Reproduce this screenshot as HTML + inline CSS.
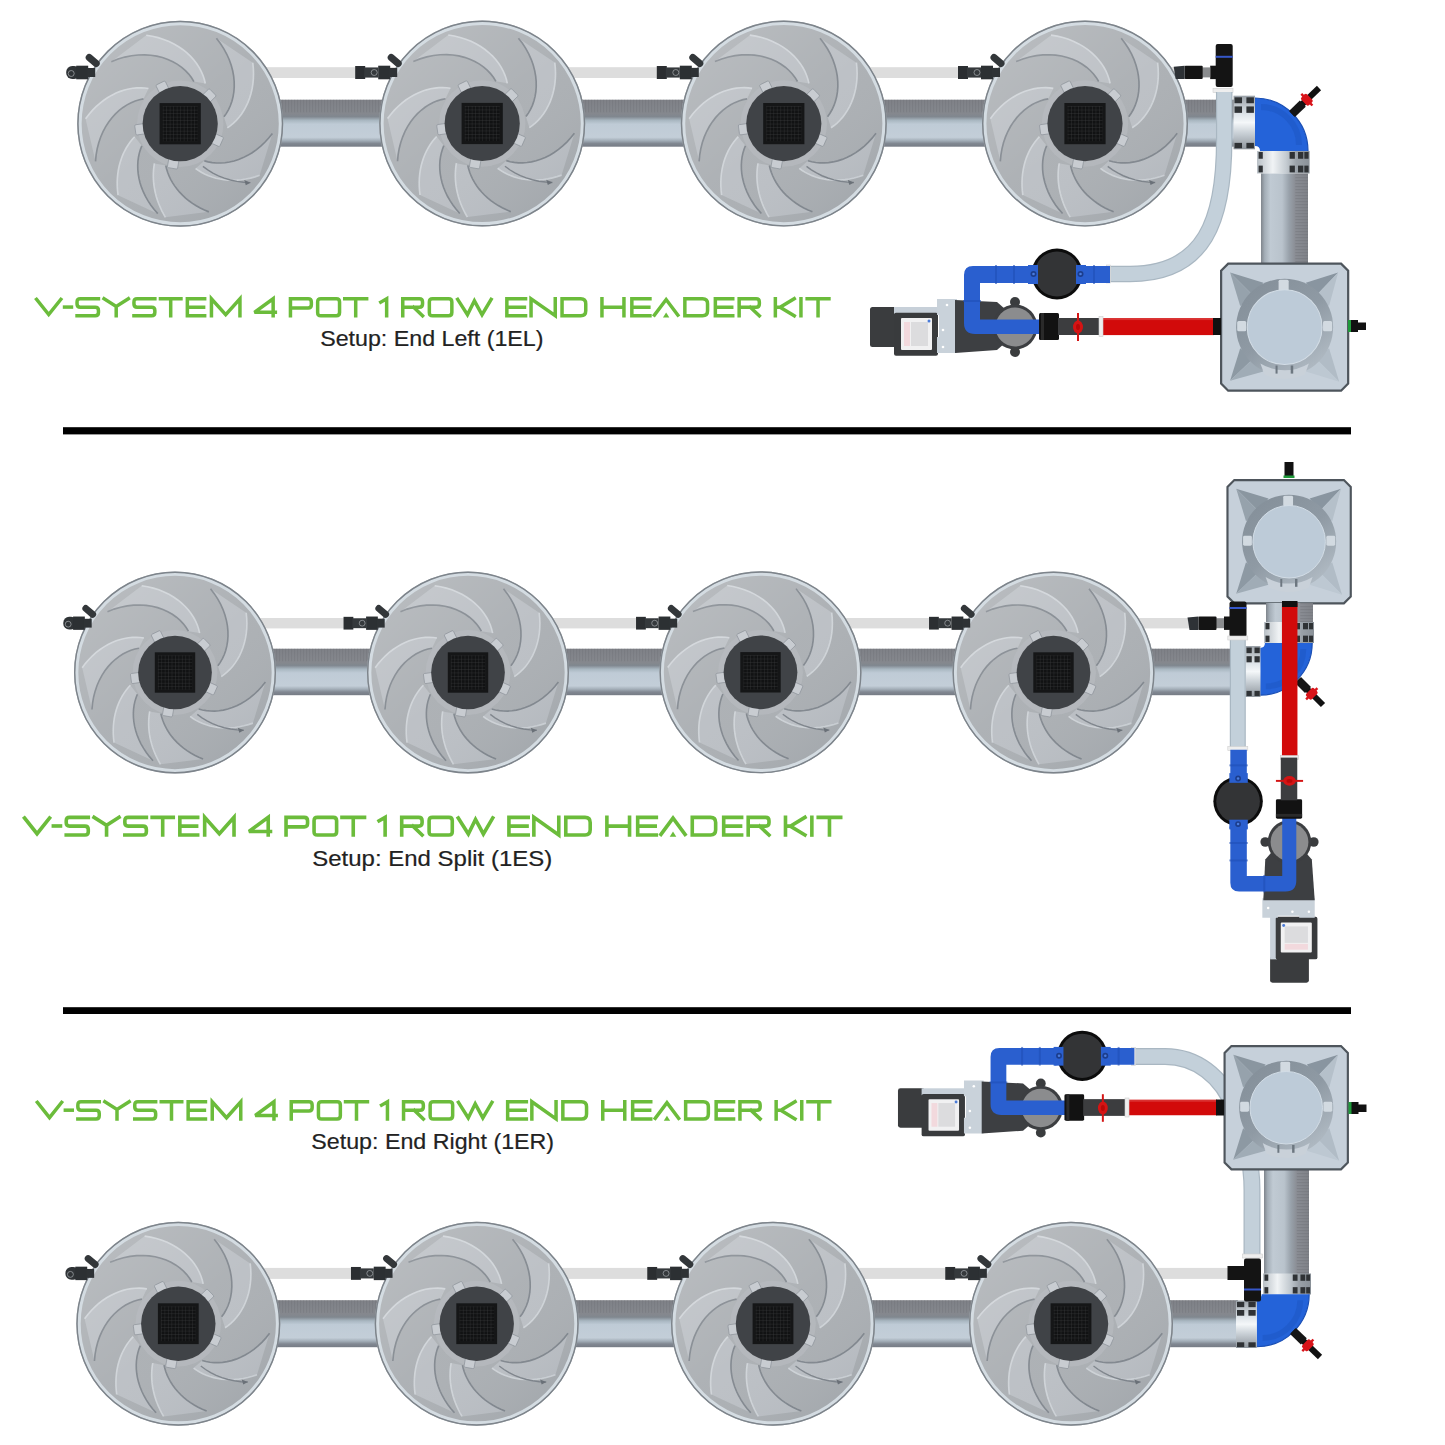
<!DOCTYPE html>
<html><head><meta charset="utf-8"><title>V-System</title>
<style>html,body{margin:0;padding:0;background:#fff;}svg{display:block;}</style>
</head><body>
<svg width="1445" height="1445" viewBox="0 0 1445 1445">
<rect width="1445" height="1445" fill="#fff"/>

<defs>
 <linearGradient id="potShade" x1="0.15" y1="0.1" x2="0.85" y2="0.9">
  <stop offset="0" stop-color="#ffffff" stop-opacity="0.15"/>
  <stop offset="0.5" stop-color="#ffffff" stop-opacity="0.02"/>
  <stop offset="1" stop-color="#203040" stop-opacity="0.06"/>
 </linearGradient>
 <linearGradient id="tankRing" x1="0.2" y1="0.1" x2="0.8" y2="0.9">
  <stop offset="0" stop-color="#86919b"/>
  <stop offset="0.5" stop-color="#8f9aa4"/>
  <stop offset="1" stop-color="#aeb8c1"/>
 </linearGradient>
 <pattern id="grid" width="3.4" height="3.4" patternUnits="userSpaceOnUse">
  <rect width="3.4" height="3.4" fill="#111213"/>
  <path d="M0,0 L3.4,0 M0,0 L0,3.4" stroke="#3d3e40" stroke-width="0.6"/>
 </pattern>
 <linearGradient id="pipeH" x1="0" y1="0" x2="0" y2="1">
  <stop offset="0" stop-color="#7f8187"/>
  <stop offset="0.30" stop-color="#85888e"/>
  <stop offset="0.36" stop-color="#80878f"/>
  <stop offset="0.44" stop-color="#a9b7c1"/>
  <stop offset="0.52" stop-color="#bfcbd6"/>
  <stop offset="0.80" stop-color="#c3ced8"/>
  <stop offset="0.87" stop-color="#a3aeb8"/>
  <stop offset="0.93" stop-color="#818892"/>
  <stop offset="1" stop-color="#767c85"/>
 </linearGradient>
 <linearGradient id="pipeV" x1="0" y1="0" x2="1" y2="0">
  <stop offset="0" stop-color="#7f858c"/>
  <stop offset="0.08" stop-color="#a4aeb7"/>
  <stop offset="0.2" stop-color="#c0cad3"/>
  <stop offset="0.45" stop-color="#b9c3cc"/>
  <stop offset="0.6" stop-color="#98a1aa"/>
  <stop offset="0.73" stop-color="#8a8d94"/>
  <stop offset="1" stop-color="#7f8288"/>
 </linearGradient>
 <pattern id="ribs" width="3" height="10" patternUnits="userSpaceOnUse">
  <rect width="1.2" height="10" fill="#6a6c72"/>
 </pattern>
 <pattern id="ribsH" width="10" height="3" patternUnits="userSpaceOnUse">
  <rect width="10" height="1.2" fill="#6a6c72"/>
 </pattern>
 <linearGradient id="metalV" x1="0" y1="0" x2="0" y2="1">
  <stop offset="0" stop-color="#9aa1a8"/>
  <stop offset="0.35" stop-color="#dfe5ea"/>
  <stop offset="0.5" stop-color="#f4f7f9"/>
  <stop offset="0.7" stop-color="#c9d0d6"/>
  <stop offset="1" stop-color="#8e959c"/>
 </linearGradient>
 <linearGradient id="metalH" x1="0" y1="0" x2="1" y2="0">
  <stop offset="0" stop-color="#b9c0c6"/>
  <stop offset="0.3" stop-color="#f0f3f5"/>
  <stop offset="0.55" stop-color="#c5ccd2"/>
  <stop offset="0.75" stop-color="#9aa1a8"/>
  <stop offset="1" stop-color="#8a9198"/>
 </linearGradient>
<g id="pot">
<circle r="100" fill="#acb0b4"/>
<path d="M13.29,-40.9 L11.02,-44.6 L8.28,-48.17 L5.08,-51.56 L1.43,-54.73 L-2.64,-57.63 L-7.13,-60.2 L-11.99,-62.42 L-17.21,-64.23 L-22.75,-65.6 L-28.57,-66.5 L-34.63,-66.88 L-40.89,-66.72 L-47.29,-65.99 L-53.79,-64.68 L-60.34,-62.76 L-66.88,-60.22 L-32.97,-85.89 L-27.08,-84.91 L-21.41,-83.55 L-16,-81.83 L-10.86,-79.76 L-6.01,-77.39 L-1.47,-74.74 L2.74,-71.82 L6.61,-68.68 L10.13,-65.34 L13.29,-61.84 L16.07,-58.2 L18.48,-54.45 L20.52,-50.63 L22.18,-46.76 L23.46,-42.88 L24.38,-39.01 Z" fill="#bcc0c5"/>
<path d="M13.29,-40.9 L11.02,-44.6 L8.28,-48.17 L5.08,-51.56 L1.43,-54.73 L-2.64,-57.63 L-7.13,-60.2 L-11.99,-62.42 L-17.21,-64.23 L-22.75,-65.6 L-28.57,-66.5 L-34.63,-66.88 L-40.89,-66.72 L-47.29,-65.99 L-53.79,-64.68 L-60.34,-62.76 L-66.88,-60.22" fill="none" stroke="#838990" stroke-width="1.6"/>
<path d="M24.38,-39.01 L23.46,-42.88 L22.18,-46.76 L20.52,-50.63 L18.48,-54.45 L16.07,-58.2 L13.29,-61.84 L10.13,-65.34 L6.61,-68.68 L2.74,-71.82 L-1.47,-74.74 L-6.01,-77.39 L-10.86,-79.76 L-16,-81.83 L-21.41,-83.55 L-27.08,-84.91 L-32.97,-85.89" fill="none" stroke="#d3d7dc" stroke-width="1.6" opacity="0.9"/>
<path d="M42.47,-6.73 L44.83,-10.04 L46.92,-13.68 L48.73,-17.61 L50.21,-21.83 L51.34,-26.3 L52.1,-31 L52.46,-35.89 L52.4,-40.94 L51.91,-46.12 L50.95,-51.4 L49.53,-56.73 L47.64,-62.08 L45.25,-67.41 L42.38,-72.67 L39.02,-77.83 L35.17,-82.85 L70.48,-59.14 L71,-53.87 L71.19,-48.7 L71.04,-43.64 L70.58,-38.72 L69.81,-33.95 L68.74,-29.36 L67.41,-24.95 L65.81,-20.75 L63.96,-16.77 L61.9,-13.02 L59.62,-9.51 L57.16,-6.26 L54.53,-3.28 L51.75,-0.56 L48.84,1.87 L45.82,4.01 Z" fill="#bcc0c5"/>
<path d="M42.47,-6.73 L44.83,-10.04 L46.92,-13.68 L48.73,-17.61 L50.21,-21.83 L51.34,-26.3 L52.1,-31 L52.46,-35.89 L52.4,-40.94 L51.91,-46.12 L50.95,-51.4 L49.53,-56.73 L47.64,-62.08 L45.25,-67.41 L42.38,-72.67 L39.02,-77.83 L35.17,-82.85" fill="none" stroke="#838990" stroke-width="1.6"/>
<path d="M45.82,4.01 L48.84,1.87 L51.75,-0.56 L54.53,-3.28 L57.16,-6.26 L59.62,-9.51 L61.9,-13.02 L63.96,-16.77 L65.81,-20.75 L67.41,-24.95 L68.74,-29.36 L69.81,-33.95 L70.58,-38.72 L71.04,-43.64 L71.19,-48.7 L71,-53.87 L70.48,-59.14" fill="none" stroke="#d3d7dc" stroke-width="1.6" opacity="0.9"/>
<path d="M23.42,36.06 L27.12,37.08 L31.01,37.78 L35.05,38.16 L39.22,38.2 L43.5,37.89 L47.85,37.22 L52.27,36.17 L56.7,34.75 L61.13,32.93 L65.53,30.73 L69.86,28.14 L74.1,25.15 L78.21,21.78 L82.17,18.03 L85.95,13.9 L89.51,9.41 L77.16,50.11 L72.67,51.6 L68.2,52.8 L63.75,53.73 L59.35,54.39 L55.01,54.77 L50.74,54.89 L46.56,54.76 L42.48,54.37 L38.52,53.75 L34.68,52.9 L30.98,51.82 L27.44,50.53 L24.05,49.04 L20.84,47.37 L17.81,45.51 L14.98,43.49 Z" fill="#bcc0c5"/>
<path d="M23.42,36.06 L27.12,37.08 L31.01,37.78 L35.05,38.16 L39.22,38.2 L43.5,37.89 L47.85,37.22 L52.27,36.17 L56.7,34.75 L61.13,32.93 L65.53,30.73 L69.86,28.14 L74.1,25.15 L78.21,21.78 L82.17,18.03 L85.95,13.9 L89.51,9.41" fill="none" stroke="#838990" stroke-width="1.6"/>
<path d="M14.98,43.49 L17.81,45.51 L20.84,47.37 L24.05,49.04 L27.44,50.53 L30.98,51.82 L34.68,52.9 L38.52,53.75 L42.48,54.37 L46.56,54.76 L50.74,54.89 L55.01,54.77 L59.35,54.39 L63.75,53.73 L68.2,52.8 L72.67,51.6 L77.16,50.11" fill="none" stroke="#d3d7dc" stroke-width="1.6" opacity="0.9"/>
<path d="M-14,40.66 L-13.19,44 L-12.13,47.34 L-10.83,50.67 L-9.27,53.96 L-7.47,57.2 L-5.42,60.38 L-3.12,63.49 L-0.58,66.5 L2.2,69.4 L5.21,72.19 L8.44,74.84 L11.9,77.34 L15.58,79.68 L19.46,81.84 L23.54,83.82 L27.81,85.6 L-14.39,90.87 L-16.24,87.63 L-17.93,84.37 L-19.46,81.07 L-20.83,77.76 L-22.05,74.43 L-23.1,71.09 L-23.99,67.75 L-24.73,64.42 L-25.3,61.09 L-25.73,57.78 L-25.99,54.49 L-26.1,51.23 L-26.06,48.01 L-25.87,44.82 L-25.54,41.67 L-25.05,38.58 Z" fill="#bcc0c5"/>
<path d="M-14,40.66 L-13.19,44 L-12.13,47.34 L-10.83,50.67 L-9.27,53.96 L-7.47,57.2 L-5.42,60.38 L-3.12,63.49 L-0.58,66.5 L2.2,69.4 L5.21,72.19 L8.44,74.84 L11.9,77.34 L15.58,79.68 L19.46,81.84 L23.54,83.82 L27.81,85.6" fill="none" stroke="#838990" stroke-width="1.6"/>
<path d="M-25.05,38.58 L-25.54,41.67 L-25.87,44.82 L-26.06,48.01 L-26.1,51.23 L-25.99,54.49 L-25.73,57.78 L-25.3,61.09 L-24.73,64.42 L-23.99,67.75 L-23.1,71.09 L-22.05,74.43 L-20.83,77.76 L-19.46,81.07 L-17.93,84.37 L-16.24,87.63 L-14.39,90.87" fill="none" stroke="#d3d7dc" stroke-width="1.6" opacity="0.9"/>
<path d="M-37.24,21.5 L-38.58,24.94 L-39.67,28.56 L-40.48,32.34 L-41.01,36.28 L-41.23,40.34 L-41.15,44.52 L-40.75,48.78 L-40.02,53.11 L-38.95,57.48 L-37.55,61.87 L-35.79,66.26 L-33.69,70.63 L-31.23,74.94 L-28.43,79.18 L-25.27,83.31 L-21.77,87.33 L-60.36,69.43 L-60.85,65.12 L-61.12,60.85 L-61.16,56.66 L-60.98,52.55 L-60.59,48.52 L-59.99,44.59 L-59.19,40.78 L-58.19,37.07 L-57.01,33.5 L-55.65,30.06 L-54.12,26.76 L-52.43,23.62 L-50.58,20.63 L-48.59,17.81 L-46.47,15.15 L-44.22,12.68 Z" fill="#bcc0c5"/>
<path d="M-37.24,21.5 L-38.58,24.94 L-39.67,28.56 L-40.48,32.34 L-41.01,36.28 L-41.23,40.34 L-41.15,44.52 L-40.75,48.78 L-40.02,53.11 L-38.95,57.48 L-37.55,61.87 L-35.79,66.26 L-33.69,70.63 L-31.23,74.94 L-28.43,79.18 L-25.27,83.31 L-21.77,87.33" fill="none" stroke="#838990" stroke-width="1.6"/>
<path d="M-44.22,12.68 L-46.47,15.15 L-48.59,17.81 L-50.58,20.63 L-52.43,23.62 L-54.12,26.76 L-55.65,30.06 L-57.01,33.5 L-58.19,37.07 L-59.19,40.78 L-59.99,44.59 L-60.59,48.52 L-60.98,52.55 L-61.16,56.66 L-61.12,60.85 L-60.85,65.12 L-60.36,69.43" fill="none" stroke="#d3d7dc" stroke-width="1.6" opacity="0.9"/>
<path d="M-35.65,-24.05 L-39.63,-23.23 L-43.64,-22 L-47.65,-20.35 L-51.61,-18.28 L-55.49,-15.78 L-59.24,-12.86 L-62.84,-9.53 L-66.25,-5.8 L-69.42,-1.67 L-72.32,2.84 L-74.92,7.71 L-77.18,12.91 L-79.07,18.44 L-80.56,24.24 L-81.62,30.31 L-82.22,36.61 L-91.87,-4.81 L-88.67,-9.03 L-85.27,-12.93 L-81.72,-16.53 L-78.02,-19.82 L-74.21,-22.78 L-70.3,-25.41 L-66.31,-27.72 L-62.28,-29.71 L-58.21,-31.36 L-54.14,-32.69 L-50.09,-33.71 L-46.07,-34.4 L-42.11,-34.79 L-38.23,-34.88 L-34.45,-34.67 L-30.78,-34.18 Z" fill="#bcc0c5"/>
<path d="M-35.65,-24.05 L-39.63,-23.23 L-43.64,-22 L-47.65,-20.35 L-51.61,-18.28 L-55.49,-15.78 L-59.24,-12.86 L-62.84,-9.53 L-66.25,-5.8 L-69.42,-1.67 L-72.32,2.84 L-74.92,7.71 L-77.18,12.91 L-79.07,18.44 L-80.56,24.24 L-81.62,30.31 L-82.22,36.61" fill="none" stroke="#838990" stroke-width="1.6"/>
<path d="M-30.78,-34.18 L-34.45,-34.67 L-38.23,-34.88 L-42.11,-34.79 L-46.07,-34.4 L-50.09,-33.71 L-54.14,-32.69 L-58.21,-31.36 L-62.28,-29.71 L-66.31,-27.72 L-70.3,-25.41 L-74.21,-22.78 L-78.02,-19.82 L-81.72,-16.53 L-85.27,-12.93 L-88.67,-9.03 L-91.87,-4.81" fill="none" stroke="#d3d7dc" stroke-width="1.6" opacity="0.9"/>
<path d="M22.07,41.5 L26.72,44.9 L31.74,47.95 L37.1,50.6 L42.79,52.85 L48.78,54.65 L55.02,55.99 L61.5,56.85 L68.18,57.21" fill="none" stroke="#80868d" stroke-width="1.4"/>
<path d="M68.18,57.21 l-6,-2.5 l1.5,5 z" fill="#6c7279"/>
<circle r="100" fill="url(#potShade)"/>
<circle r="97.3" fill="none" stroke="#d4dce2" stroke-width="3.2"/>
<circle r="99.3" fill="none" stroke="#7d848b" stroke-width="1.4"/>
<circle r="42" fill="#b9bdc2" opacity="0.6"/>
<rect x="33" y="-5" width="11" height="10" rx="1.2" fill="#c8ccd1" stroke="#8f959c" stroke-width="0.7" transform="rotate(-116)"/>
<rect x="33" y="-5" width="11" height="10" rx="1.2" fill="#c8ccd1" stroke="#8f959c" stroke-width="0.7" transform="rotate(-44)"/>
<rect x="33" y="-5" width="11" height="10" rx="1.2" fill="#c8ccd1" stroke="#8f959c" stroke-width="0.7" transform="rotate(24)"/>
<rect x="33" y="-5" width="11" height="10" rx="1.2" fill="#c8ccd1" stroke="#8f959c" stroke-width="0.7" transform="rotate(100)"/>
<rect x="33" y="-5" width="11" height="10" rx="1.2" fill="#c8ccd1" stroke="#8f959c" stroke-width="0.7" transform="rotate(172)"/>
<circle r="36.5" fill="#404347"/>
<rect x="-20" y="-20" width="40" height="40" fill="#151617"/>
<rect x="-17" y="-17" width="34" height="34" fill="url(#grid)"/>
</g><g id="tank">
<path d="M8.1,1.1 L119.9,1.1 L126.9,8.1 L126.9,119.9 L119.9,126.9 L8.1,126.9 L1.1,119.9 L1.1,8.1 Z" fill="#c6d0da" stroke="#4e555c" stroke-width="2.2"/>
<path d="M10,10 L43,20 L33,33 Z" fill="#8a96a0"/>
<path d="M10,10 L20,43 L33,33 Z" fill="#96a2ac"/>
<path d="M117,10 L85,20 L95,33 Z" fill="#8995a0"/>
<path d="M117,10 L108,43 L95,33 Z" fill="#b5c0ca"/>
<path d="M118,118 L108,85 L95,95 Z" fill="#b1bcc6"/>
<path d="M118,118 L85,108 L95,95 Z" fill="#bdc8d2"/>
<path d="M10,117 L20,85 L33,95 Z" fill="#8d99a3"/>
<path d="M10,117 L43,108 L33,95 Z" fill="#a0acb6"/>
<circle cx="64" cy="64" r="48" fill="url(#tankRing)"/>
<path d="M40,100 A46,46 0 0 0 88,100 L84,111 A50,50 0 0 1 44,111 Z" fill="#c9d1d9"/>
<rect x="55" y="102" width="2" height="8" fill="#6d7780"/><rect x="70" y="102" width="2.5" height="8" fill="#6d7780"/>
<rect x="58" y="17" width="10" height="11" rx="1.5" fill="#d2dae1"/>
<rect x="17" y="58" width="9" height="10" rx="1.5" fill="#d2dae1"/>
<rect x="102" y="58" width="9" height="10" rx="1.5" fill="#d2dae1"/>
<circle cx="64" cy="64" r="37" fill="#bdcbd8" stroke="#d3dde6" stroke-width="1"/>
</g><g id="pump">
<rect x="-145" y="-20" width="27" height="40" rx="2.5" fill="#3a3c3e"/>
<rect x="-121" y="-20" width="44" height="7" fill="#c7d0d9"/>
<rect x="-121" y="-14.2" width="44" height="43" rx="2" fill="#393b3d"/>
<rect x="-114" y="-9" width="31" height="32" rx="1" fill="#f1f1f2"/>
<rect x="-111" y="-5" width="6" height="24" fill="#f2d9dd"/>
<rect x="-104" y="-5" width="17" height="24" fill="#dcdcde"/>
<circle cx="-86" cy="-6" r="1.5" fill="#4a7bd8"/>
<path d="M-78,-28 L-58,-28 L-58,26 L-78,26 L-78,10 L-76,10 L-76,-12 L-78,-12 Z" fill="#c9d2da"/>
<circle cx="-68" cy="-22" r="1.3" fill="#fff"/><circle cx="-72" cy="3" r="1.3" fill="#fff"/><circle cx="-72" cy="20" r="1.3" fill="#fff"/>
<path d="M-60,-27 L-18,-25 L-10,-18 L-10,16 L-18,23 L-60,26 Z" fill="#3d3f42"/>
<circle cx="0" cy="-25" r="5" fill="#3a3c3e"/><circle cx="0" cy="25" r="5" fill="#3a3c3e"/>
<circle cx="0" cy="0" r="22.5" fill="#3c3e41"/>
<circle cx="0" cy="0" r="19.5" fill="#8b8c8e"/>
<path d="M-51,-52 Q-51,-61 -42,-61 L95,-61 L95,-44 L-35,-44 L-35,-7.5 L25,-7.5 L25,7 L-40,7 Q-51,7 -51,-4 Z" fill="#2a5fcf"/>
<rect x="-20" y="-62" width="2" height="19" fill="#1f4fb6" opacity="0.6"/>
<rect x="-2" y="-62" width="2" height="19" fill="#1f4fb6" opacity="0.6"/>
<rect x="14" y="-62" width="2" height="19" fill="#1f4fb6" opacity="0.6"/>
<rect x="78" y="-62" width="2" height="19" fill="#1f4fb6" opacity="0.6"/>
<rect x="-52" y="-27" width="18" height="2" fill="#1f4fb6" opacity="0.6"/>
<circle cx="42" cy="-53" r="25.5" fill="#0c0c0c"/>
<circle cx="42" cy="-53" r="22.5" fill="#333436"/>
<rect x="13" y="-62" width="10" height="19" fill="#2a5fcf"/>
<rect x="61" y="-62" width="10" height="19" fill="#2a5fcf"/>
<circle cx="18.5" cy="-53" r="3" fill="#1c3d8c"/><circle cx="18.5" cy="-53" r="1.3" fill="#4a7de0"/>
<circle cx="65.5" cy="-53" r="3" fill="#1c3d8c"/><circle cx="65.5" cy="-53" r="1.3" fill="#4a7de0"/>
<rect x="24" y="-14" width="20" height="27" rx="1.5" fill="#121212"/>
<rect x="26" y="-14" width="3" height="27" fill="#2a2a2a"/>
<rect x="43" y="-9" width="44" height="17" fill="#3c3d3f"/>
<rect x="62" y="-14" width="2" height="28" fill="#d41414"/>
<ellipse cx="63" cy="0" rx="5" ry="6.5" fill="#d41414"/>
<ellipse cx="63" cy="0" rx="2" ry="3" fill="#b80808"/>
</g><g id="elbow">
<path d="M0,-53 A53,53 0 0 1 53,0 L5,0 Q5,-5 0,-5 Z" fill="#2463d9"/>
<path d="M6,-44 A38,38 0 0 1 44,-6" fill="none" stroke="#1b4fb8" stroke-width="6" opacity="0.35"/>
<path d="M0,-53 A53,53 0 0 1 53,0" fill="none" stroke="#1a4fb5" stroke-width="1.2"/>
</g>
</defs>
<rect x="85" y="99.7" width="1151" height="47" fill="url(#pipeH)"/><rect x="85" y="99.7" width="1151" height="12.69" fill="url(#ribs)" opacity="0.3"/>
<rect x="250" y="67.2" width="930" height="10.8" fill="#dddddd"/>
<use href="#pot" transform="translate(180.2,123.7) scale(1.03)"/>
<use href="#pot" transform="translate(482.2,123.5) scale(1.03)"/>
<use href="#pot" transform="translate(783.8,123.6) scale(1.03)"/>
<use href="#pot" transform="translate(1085,123.6) scale(1.03)"/>
<g transform="translate(180.2,72.5) scale(1)">
<rect x="-114" y="-6.5" width="14" height="13" rx="6" fill="#2f3336"/>
<circle cx="-109" cy="1" r="3" fill="none" stroke="#9a9ea2" stroke-width="0.8"/>
<rect x="-104" y="-6.8" width="12" height="13.6" fill="#2c3033"/>
<rect x="-93" y="-4.5" width="8" height="9" fill="#2e3235"/>
<line x1="-91" y1="-15" x2="-84" y2="-9" stroke="#33373a" stroke-width="7" stroke-linecap="round"/>
</g>
<g transform="translate(482.2,72.5) scale(1)">
<rect x="-127" y="-6.5" width="10" height="13" fill="#2b2e31"/>
<rect x="-118" y="-5" width="14" height="10" fill="#35393c"/>
<circle cx="-108" cy="0" r="3" fill="none" stroke="#9a9ea2" stroke-width="0.8"/>
<rect x="-104" y="-6.8" width="12" height="13.6" fill="#2c3033"/>
<rect x="-93" y="-4.5" width="8" height="9" fill="#2e3235"/>
<line x1="-91" y1="-15" x2="-84" y2="-9" stroke="#33373a" stroke-width="7" stroke-linecap="round"/>
</g>
<g transform="translate(783.8,72.5) scale(1)">
<rect x="-127" y="-6.5" width="10" height="13" fill="#2b2e31"/>
<rect x="-118" y="-5" width="14" height="10" fill="#35393c"/>
<circle cx="-108" cy="0" r="3" fill="none" stroke="#9a9ea2" stroke-width="0.8"/>
<rect x="-104" y="-6.8" width="12" height="13.6" fill="#2c3033"/>
<rect x="-93" y="-4.5" width="8" height="9" fill="#2e3235"/>
<line x1="-91" y1="-15" x2="-84" y2="-9" stroke="#33373a" stroke-width="7" stroke-linecap="round"/>
</g>
<g transform="translate(1085,72.5) scale(1)">
<rect x="-127" y="-6.5" width="10" height="13" fill="#2b2e31"/>
<rect x="-118" y="-5" width="14" height="10" fill="#35393c"/>
<circle cx="-108" cy="0" r="3" fill="none" stroke="#9a9ea2" stroke-width="0.8"/>
<rect x="-104" y="-6.8" width="12" height="13.6" fill="#2c3033"/>
<rect x="-93" y="-4.5" width="8" height="9" fill="#2e3235"/>
<line x1="-91" y1="-15" x2="-84" y2="-9" stroke="#33373a" stroke-width="7" stroke-linecap="round"/>
</g>
<rect x="1215.7" y="44" width="17" height="43" rx="2" fill="#141414"/>
<rect x="1215.7" y="55.8" width="17" height="2" fill="#3657c9"/>
<rect x="1210.2" y="65.7" width="6" height="13.4" fill="#141414"/>
<rect x="1202.2" y="67.4" width="8" height="10" fill="#8a8c8e"/>
<rect x="1184.7" y="65.7" width="18" height="13.4" rx="1" fill="#141414"/>
<path d="M1173.7,66.7 L1184.7,65.7 L1184.7,79.1 L1175.7,79.1 Z" fill="#2e3236"/>
<rect x="1213" y="88.5" width="20" height="4" fill="#eeeeee" stroke="#cfcfcf" stroke-width="0.6"/>
<rect x="1233.5" y="95.7" width="21.5" height="53.6" fill="url(#metalV)"/>
<rect x="1234.5" y="97.31" width="7.52" height="5.9" fill="#2f3235"/>
<rect x="1246.4" y="97.31" width="7.52" height="5.9" fill="#2f3235"/>
<rect x="1234.5" y="106.42" width="7.52" height="6.43" fill="#2f3235"/>
<rect x="1246.4" y="106.42" width="7.52" height="6.43" fill="#2f3235"/>
<rect x="1234.5" y="142.87" width="7.52" height="5.36" fill="#2f3235"/>
<rect x="1246.4" y="142.87" width="7.52" height="5.36" fill="#2f3235"/>
<use href="#elbow" transform="translate(1255,151)"/>
<rect x="1257" y="151" width="52.6" height="22.5" fill="url(#metalH)"/>
<rect x="1258.58" y="152" width="4.21" height="6.75" fill="#2f3235"/>
<rect x="1258.58" y="165.62" width="4.21" height="6.75" fill="#2f3235"/>
<rect x="1289.61" y="152" width="5.26" height="6.75" fill="#2f3235"/>
<rect x="1289.61" y="165.62" width="5.26" height="6.75" fill="#2f3235"/>
<rect x="1298.03" y="152" width="5.26" height="6.75" fill="#2f3235"/>
<rect x="1298.03" y="165.62" width="5.26" height="6.75" fill="#2f3235"/>
<rect x="1304.34" y="152" width="4.21" height="6.75" fill="#2f3235"/>
<rect x="1304.34" y="165.62" width="4.21" height="6.75" fill="#2f3235"/>
<rect x="1261" y="173.5" width="47" height="89.5" fill="url(#pipeV)"/><rect x="1295.31" y="173.5" width="12.69" height="89.5" fill="url(#ribsH)" opacity="0.35"/>
<line x1="1292" y1="114" x2="1319" y2="88" stroke="#111" stroke-width="6"/>
<line x1="1292" y1="114" x2="1302.8" y2="103.6" stroke="#151515" stroke-width="8.5"/>
<g transform="translate(1306.85,99.7) rotate(-43.92)"><rect x="-4" y="-5.5" width="8" height="11" rx="2" fill="#d8141a"/><rect x="-1.2" y="-8" width="2.4" height="16" fill="#d8141a"/></g>
<path d="M1224.2,92 L1224.2,140 C1224.2,220 1205,274 1130,274 L1108,274" fill="none" stroke="#a9b7c2" stroke-width="16.5"/><path d="M1224.2,92 L1224.2,140 C1224.2,220 1205,274 1130,274 L1108,274" fill="none" stroke="#c3d0da" stroke-width="14.1"/>
<rect x="1106.5" y="265" width="4" height="18" fill="#eeeeee" stroke="#cfcfcf" stroke-width="0.6"/>
<use href="#tank" transform="translate(1220,262.5) scale(1.01)"/>
<rect x="1348" y="320" width="4" height="12" fill="#1f9a3a"/><rect x="1351" y="320" width="7" height="12" fill="#111"/><rect x="1357" y="322.5" width="9" height="7.5" fill="#111"/>
<use href="#pump" transform="translate(1015,327)"/>
<rect x="1101" y="318.1" width="113" height="17" fill="#d20a0a"/><rect x="1101" y="318.1" width="113" height="2" fill="#e04a4a" opacity="0.6"/>
<rect x="1099" y="316.6" width="4" height="20" fill="#eeeeee" stroke="#cfcfcf" stroke-width="0.6"/>
<rect x="1213" y="318" width="8" height="17" fill="#111"/>
<g transform="translate(34.2,297) scale(1,1)">
<g transform="translate(-34.2,0)" fill="none" stroke="#6bbc3b" stroke-width="3.5" stroke-linejoin="miter" stroke-miterlimit="3" stroke-linecap="square">
<path transform="translate(35.95,1.75)" d="M0.6,0.6 L12.75,15.8 L24.9,0.6"/>
<path transform="translate(64.55,1.75)" d="M0,8.33 L6.9,8.33"/>
<path transform="translate(77.05,1.75)" d="M21.4,0 L3.2,0 Q0,0 0,3.2 L0,5.3 Q0,8.5 3.2,8.5 L18.2,8.5 Q21.4,8.5 21.4,11.7 L21.4,13.8 Q21.4,17 18.2,17 L0,17"/>
<path transform="translate(104.05,1.75)" d="M0,0 L12.15,7.65 L24.3,0 M12.15,7.65 L12.15,17"/>
<path transform="translate(133.95,1.75)" d="M20.9,0 L3.2,0 Q0,0 0,3.2 L0,5.3 Q0,8.5 3.2,8.5 L17.7,8.5 Q20.9,8.5 20.9,11.7 L20.9,13.8 Q20.9,17 17.7,17 L0,17"/>
<path transform="translate(160.45,1.75)" d="M0,0 L20.5,0 M10.25,0 L10.25,17"/>
<path transform="translate(187.35,1.75)" d="M17.3,0 L0,0 L0,17 L17.3,17 M0,8.5 L16.26,8.5"/>
<path transform="translate(211.45,1.75)" d="M0,17 L0,0 L14.25,15.81 L28.5,0 L28.5,17"/>
<path transform="translate(254.45,1.75)" d="M18.7,17 L18.7,0 L0,13.6 L20.9,13.6"/>
<path transform="translate(290.45,1.75)" d="M0,17 L0,0 L17.7,0 Q20.9,0 20.9,3.2 L20.9,5.98 Q20.9,9.18 17.7,9.18 L0,9.18"/>
<path transform="translate(317.65,1.75)" d="M3.2,0 L18.7,0 Q21.9,0 21.9,3.2 L21.9,13.8 Q21.9,17 18.7,17 L3.2,17 Q0,17 0,13.8 L0,3.2 Q0,0 3.2,0 Z"/>
<path transform="translate(344.75,1.75)" d="M0,0 L21.9,0 M10.95,0 L10.95,17"/>
<path transform="translate(380.75,1.75)" d="M0,3.4 L5.9,0 L5.9,17"/>
<path transform="translate(402.75,1.75)" d="M0,17 L0,0 L16.6,0 Q19.8,0 19.8,3.2 L19.8,5.3 Q19.8,8.5 16.6,8.5 L0,8.5 M10.89,8.5 L19.8,17"/>
<path transform="translate(429.35,1.75)" d="M3.2,0 L19.3,0 Q22.5,0 22.5,3.2 L22.5,13.8 Q22.5,17 19.3,17 L3.2,17 Q0,17 0,13.8 L0,3.2 Q0,0 3.2,0 Z"/>
<path transform="translate(457.05,1.75)" d="M0.6,0.6 L10.41,16 L17.35,2.04 L24.98,16 L34.1,0.6"/>
<path transform="translate(506.85,1.75)" d="M18.7,0 L0,0 L0,17 L18.7,17 M0,8.5 L17.58,8.5"/>
<path transform="translate(531.05,1.75)" d="M0,17 L0,0 L24.2,17 L24.2,0"/>
<path transform="translate(562.05,1.75)" d="M0,0 L18.7,0 Q23.7,0 23.7,5 L23.7,12 Q23.7,17 18.7,17 L0,17 Z"/>
<path transform="translate(601.95,1.75)" d="M0,0 L0,17 M22,0 L22,17 M0,8.5 L22,8.5"/>
<path transform="translate(631.85,1.75)" d="M18.1,0 L0,0 L0,17 L18.1,17 M0,8.5 L17.01,8.5"/>
<path transform="translate(653.85,1.75)" d="M0.6,16.4 L12.3,0.8 L24,16.4"/>
<path d="M662.95,20.5 L666.15,15.5 L669.35,20.5 Z" fill="#6bbc3b" stroke="none"/>
<path transform="translate(684.85,1.75)" d="M0,0 L17.7,0 Q22.7,0 22.7,5 L22.7,12 Q22.7,17 17.7,17 L0,17 Z"/>
<path transform="translate(715.35,1.75)" d="M17.4,0 L0,0 L0,17 L17.4,17 M0,8.5 L16.36,8.5"/>
<path transform="translate(739.15,1.75)" d="M0,17 L0,0 L17,0 Q20.2,0 20.2,3.2 L20.2,5.3 Q20.2,8.5 17,8.5 L0,8.5 M11.11,8.5 L20.2,17"/>
<path transform="translate(775.35,1.75)" d="M0,0 L0,17 M18.9,0 L4.72,8.5 L18.9,17 M0,8.5 L4.72,8.5"/>
<path transform="translate(800.95,1.75)" d="M0,0 L0,17"/>
<path transform="translate(807.15,1.75)" d="M0,0 L21.8,0 M10.9,0 L10.9,17"/>
</g></g>
<text x="320.2" y="346.3" font-family="Liberation Sans, sans-serif" font-size="21.3" fill="#222" stroke="#222" stroke-width="0.2" textLength="223.3" lengthAdjust="spacingAndGlyphs">Setup: End Left (1EL)</text>
<rect x="80" y="648.7" width="1156" height="46.5" fill="url(#pipeH)"/><rect x="80" y="648.7" width="1156" height="12.56" fill="url(#ribs)" opacity="0.3"/>
<rect x="250" y="618" width="945" height="10.4" fill="#dddddd"/>
<use href="#pot" transform="translate(175,672.5) scale(1.01)"/>
<use href="#pot" transform="translate(468,672.5) scale(1.01)"/>
<use href="#pot" transform="translate(760.5,672.3) scale(1.01)"/>
<use href="#pot" transform="translate(1053.5,672.5) scale(1.01)"/>
<g transform="translate(175,623.2) scale(0.98)">
<rect x="-114" y="-6.5" width="14" height="13" rx="6" fill="#2f3336"/>
<circle cx="-109" cy="1" r="3" fill="none" stroke="#9a9ea2" stroke-width="0.8"/>
<rect x="-104" y="-6.8" width="12" height="13.6" fill="#2c3033"/>
<rect x="-93" y="-4.5" width="8" height="9" fill="#2e3235"/>
<line x1="-91" y1="-15" x2="-84" y2="-9" stroke="#33373a" stroke-width="7" stroke-linecap="round"/>
</g>
<g transform="translate(468,623.2) scale(0.98)">
<rect x="-127" y="-6.5" width="10" height="13" fill="#2b2e31"/>
<rect x="-118" y="-5" width="14" height="10" fill="#35393c"/>
<circle cx="-108" cy="0" r="3" fill="none" stroke="#9a9ea2" stroke-width="0.8"/>
<rect x="-104" y="-6.8" width="12" height="13.6" fill="#2c3033"/>
<rect x="-93" y="-4.5" width="8" height="9" fill="#2e3235"/>
<line x1="-91" y1="-15" x2="-84" y2="-9" stroke="#33373a" stroke-width="7" stroke-linecap="round"/>
</g>
<g transform="translate(760.5,623.2) scale(0.98)">
<rect x="-127" y="-6.5" width="10" height="13" fill="#2b2e31"/>
<rect x="-118" y="-5" width="14" height="10" fill="#35393c"/>
<circle cx="-108" cy="0" r="3" fill="none" stroke="#9a9ea2" stroke-width="0.8"/>
<rect x="-104" y="-6.8" width="12" height="13.6" fill="#2c3033"/>
<rect x="-93" y="-4.5" width="8" height="9" fill="#2e3235"/>
<line x1="-91" y1="-15" x2="-84" y2="-9" stroke="#33373a" stroke-width="7" stroke-linecap="round"/>
</g>
<g transform="translate(1053.5,623.2) scale(0.98)">
<rect x="-127" y="-6.5" width="10" height="13" fill="#2b2e31"/>
<rect x="-118" y="-5" width="14" height="10" fill="#35393c"/>
<circle cx="-108" cy="0" r="3" fill="none" stroke="#9a9ea2" stroke-width="0.8"/>
<rect x="-104" y="-6.8" width="12" height="13.6" fill="#2c3033"/>
<rect x="-93" y="-4.5" width="8" height="9" fill="#2e3235"/>
<line x1="-91" y1="-15" x2="-84" y2="-9" stroke="#33373a" stroke-width="7" stroke-linecap="round"/>
</g>
<use href="#tank" transform="translate(1226.4,479) scale(0.98)"/>
<rect x="1284.5" y="462" width="9" height="15" fill="#111"/><rect x="1283.5" y="475.5" width="11" height="2.5" fill="#1f9a3a"/>
<rect x="1266" y="603" width="47" height="21" fill="url(#pipeV)"/><rect x="1300.31" y="603" width="12.69" height="21" fill="url(#ribsH)" opacity="0.35"/>
<rect x="1264" y="622" width="50" height="21" fill="url(#metalH)"/>
<rect x="1265.5" y="623" width="4" height="6.3" fill="#2f3235"/>
<rect x="1265.5" y="635.65" width="4" height="6.3" fill="#2f3235"/>
<rect x="1295" y="623" width="5" height="6.3" fill="#2f3235"/>
<rect x="1295" y="635.65" width="5" height="6.3" fill="#2f3235"/>
<rect x="1303" y="623" width="5" height="6.3" fill="#2f3235"/>
<rect x="1303" y="635.65" width="5" height="6.3" fill="#2f3235"/>
<rect x="1309" y="623" width="4" height="6.3" fill="#2f3235"/>
<rect x="1309" y="635.65" width="4" height="6.3" fill="#2f3235"/>
<use href="#elbow" transform="translate(1260,643) scale(0.985,-0.985)"/>
<rect x="1245.5" y="646" width="15" height="51" fill="url(#metalV)"/>
<rect x="1246.5" y="647.53" width="5.25" height="5.61" fill="#2f3235"/>
<rect x="1254.5" y="647.53" width="5.25" height="5.61" fill="#2f3235"/>
<rect x="1246.5" y="656.2" width="5.25" height="6.12" fill="#2f3235"/>
<rect x="1254.5" y="656.2" width="5.25" height="6.12" fill="#2f3235"/>
<rect x="1246.5" y="690.88" width="5.25" height="5.1" fill="#2f3235"/>
<rect x="1254.5" y="690.88" width="5.25" height="5.1" fill="#2f3235"/>
<line x1="1298" y1="680" x2="1323" y2="705" stroke="#111" stroke-width="6"/>
<line x1="1298" y1="680" x2="1308" y2="690" stroke="#151515" stroke-width="8.5"/>
<g transform="translate(1311.75,693.75) rotate(45)"><rect x="-4" y="-5.5" width="8" height="11" rx="2" fill="#d8141a"/><rect x="-1.2" y="-8" width="2.4" height="16" fill="#d8141a"/></g>
<rect x="1281.95" y="603" width="15.5" height="154" fill="#d20a0a"/>
<rect x="1282" y="601" width="15.5" height="6" fill="#111"/>
<rect x="1280.5" y="755.5" width="18" height="4" fill="#eeeeee" stroke="#cfcfcf" stroke-width="0.6"/>
<rect x="1229.5" y="601.5" width="17" height="35.5" rx="2" fill="#141414"/>
<rect x="1229.5" y="607" width="17" height="2" fill="#3657c9"/>
<rect x="1224" y="616.5" width="6" height="13.4" fill="#141414"/>
<rect x="1216" y="618.2" width="8" height="10" fill="#8a8c8e"/>
<rect x="1198.5" y="616.5" width="18" height="13.4" rx="1" fill="#141414"/>
<path d="M1187.5,617.5 L1198.5,616.5 L1198.5,629.9 L1189.5,629.9 Z" fill="#2e3236"/>
<path d="M1237.8,638 L1237.8,749" fill="none" stroke="#a9b7c2" stroke-width="16"/><path d="M1237.8,638 L1237.8,749" fill="none" stroke="#c3d0da" stroke-width="13.6"/>
<rect x="1227.8" y="636" width="20" height="4" fill="#eeeeee" stroke="#cfcfcf" stroke-width="0.6"/>
<rect x="1227.8" y="746.5" width="20" height="4" fill="#eeeeee" stroke="#cfcfcf" stroke-width="0.6"/>
<use href="#pump" transform="translate(1289.5,842) rotate(-90) scale(0.97)"/>
<g transform="translate(22.1,815.5) scale(1.03,1.04)">
<g transform="translate(-34.2,0)" fill="none" stroke="#6bbc3b" stroke-width="3.5" stroke-linejoin="miter" stroke-miterlimit="3" stroke-linecap="square">
<path transform="translate(35.95,1.75)" d="M0.6,0.6 L12.75,15.8 L24.9,0.6"/>
<path transform="translate(64.55,1.75)" d="M0,8.33 L6.9,8.33"/>
<path transform="translate(77.05,1.75)" d="M21.4,0 L3.2,0 Q0,0 0,3.2 L0,5.3 Q0,8.5 3.2,8.5 L18.2,8.5 Q21.4,8.5 21.4,11.7 L21.4,13.8 Q21.4,17 18.2,17 L0,17"/>
<path transform="translate(104.05,1.75)" d="M0,0 L12.15,7.65 L24.3,0 M12.15,7.65 L12.15,17"/>
<path transform="translate(133.95,1.75)" d="M20.9,0 L3.2,0 Q0,0 0,3.2 L0,5.3 Q0,8.5 3.2,8.5 L17.7,8.5 Q20.9,8.5 20.9,11.7 L20.9,13.8 Q20.9,17 17.7,17 L0,17"/>
<path transform="translate(160.45,1.75)" d="M0,0 L20.5,0 M10.25,0 L10.25,17"/>
<path transform="translate(187.35,1.75)" d="M17.3,0 L0,0 L0,17 L17.3,17 M0,8.5 L16.26,8.5"/>
<path transform="translate(211.45,1.75)" d="M0,17 L0,0 L14.25,15.81 L28.5,0 L28.5,17"/>
<path transform="translate(254.45,1.75)" d="M18.7,17 L18.7,0 L0,13.6 L20.9,13.6"/>
<path transform="translate(290.45,1.75)" d="M0,17 L0,0 L17.7,0 Q20.9,0 20.9,3.2 L20.9,5.98 Q20.9,9.18 17.7,9.18 L0,9.18"/>
<path transform="translate(317.65,1.75)" d="M3.2,0 L18.7,0 Q21.9,0 21.9,3.2 L21.9,13.8 Q21.9,17 18.7,17 L3.2,17 Q0,17 0,13.8 L0,3.2 Q0,0 3.2,0 Z"/>
<path transform="translate(344.75,1.75)" d="M0,0 L21.9,0 M10.95,0 L10.95,17"/>
<path transform="translate(380.75,1.75)" d="M0,3.4 L5.9,0 L5.9,17"/>
<path transform="translate(402.75,1.75)" d="M0,17 L0,0 L16.6,0 Q19.8,0 19.8,3.2 L19.8,5.3 Q19.8,8.5 16.6,8.5 L0,8.5 M10.89,8.5 L19.8,17"/>
<path transform="translate(429.35,1.75)" d="M3.2,0 L19.3,0 Q22.5,0 22.5,3.2 L22.5,13.8 Q22.5,17 19.3,17 L3.2,17 Q0,17 0,13.8 L0,3.2 Q0,0 3.2,0 Z"/>
<path transform="translate(457.05,1.75)" d="M0.6,0.6 L10.41,16 L17.35,2.04 L24.98,16 L34.1,0.6"/>
<path transform="translate(506.85,1.75)" d="M18.7,0 L0,0 L0,17 L18.7,17 M0,8.5 L17.58,8.5"/>
<path transform="translate(531.05,1.75)" d="M0,17 L0,0 L24.2,17 L24.2,0"/>
<path transform="translate(562.05,1.75)" d="M0,0 L18.7,0 Q23.7,0 23.7,5 L23.7,12 Q23.7,17 18.7,17 L0,17 Z"/>
<path transform="translate(601.95,1.75)" d="M0,0 L0,17 M22,0 L22,17 M0,8.5 L22,8.5"/>
<path transform="translate(631.85,1.75)" d="M18.1,0 L0,0 L0,17 L18.1,17 M0,8.5 L17.01,8.5"/>
<path transform="translate(653.85,1.75)" d="M0.6,16.4 L12.3,0.8 L24,16.4"/>
<path d="M662.95,20.5 L666.15,15.5 L669.35,20.5 Z" fill="#6bbc3b" stroke="none"/>
<path transform="translate(684.85,1.75)" d="M0,0 L17.7,0 Q22.7,0 22.7,5 L22.7,12 Q22.7,17 17.7,17 L0,17 Z"/>
<path transform="translate(715.35,1.75)" d="M17.4,0 L0,0 L0,17 L17.4,17 M0,8.5 L16.36,8.5"/>
<path transform="translate(739.15,1.75)" d="M0,17 L0,0 L17,0 Q20.2,0 20.2,3.2 L20.2,5.3 Q20.2,8.5 17,8.5 L0,8.5 M11.11,8.5 L20.2,17"/>
<path transform="translate(775.35,1.75)" d="M0,0 L0,17 M18.9,0 L4.72,8.5 L18.9,17 M0,8.5 L4.72,8.5"/>
<path transform="translate(800.95,1.75)" d="M0,0 L0,17"/>
<path transform="translate(807.15,1.75)" d="M0,0 L21.8,0 M10.9,0 L10.9,17"/>
</g></g>
<text x="312.3" y="866.2" font-family="Liberation Sans, sans-serif" font-size="21.6" fill="#222" stroke="#222" stroke-width="0.2" textLength="239.9" lengthAdjust="spacingAndGlyphs">Setup: End Split (1ES)</text>
<rect x="85" y="1300.2" width="1153" height="47" fill="url(#pipeH)"/><rect x="85" y="1300.2" width="1153" height="12.69" fill="url(#ribs)" opacity="0.3"/>
<rect x="250" y="1267.9" width="980" height="11" fill="#dddddd"/>
<use href="#pot" transform="translate(178.3,1323.7) scale(1.02)"/>
<use href="#pot" transform="translate(476.7,1323.7) scale(1.02)"/>
<use href="#pot" transform="translate(773,1323.7) scale(1.02)"/>
<use href="#pot" transform="translate(1071,1323.7) scale(1.02)"/>
<g transform="translate(178.3,1273.4) scale(0.99)">
<rect x="-114" y="-6.5" width="14" height="13" rx="6" fill="#2f3336"/>
<circle cx="-109" cy="1" r="3" fill="none" stroke="#9a9ea2" stroke-width="0.8"/>
<rect x="-104" y="-6.8" width="12" height="13.6" fill="#2c3033"/>
<rect x="-93" y="-4.5" width="8" height="9" fill="#2e3235"/>
<line x1="-91" y1="-15" x2="-84" y2="-9" stroke="#33373a" stroke-width="7" stroke-linecap="round"/>
</g>
<g transform="translate(476.7,1273.4) scale(0.99)">
<rect x="-127" y="-6.5" width="10" height="13" fill="#2b2e31"/>
<rect x="-118" y="-5" width="14" height="10" fill="#35393c"/>
<circle cx="-108" cy="0" r="3" fill="none" stroke="#9a9ea2" stroke-width="0.8"/>
<rect x="-104" y="-6.8" width="12" height="13.6" fill="#2c3033"/>
<rect x="-93" y="-4.5" width="8" height="9" fill="#2e3235"/>
<line x1="-91" y1="-15" x2="-84" y2="-9" stroke="#33373a" stroke-width="7" stroke-linecap="round"/>
</g>
<g transform="translate(773,1273.4) scale(0.99)">
<rect x="-127" y="-6.5" width="10" height="13" fill="#2b2e31"/>
<rect x="-118" y="-5" width="14" height="10" fill="#35393c"/>
<circle cx="-108" cy="0" r="3" fill="none" stroke="#9a9ea2" stroke-width="0.8"/>
<rect x="-104" y="-6.8" width="12" height="13.6" fill="#2c3033"/>
<rect x="-93" y="-4.5" width="8" height="9" fill="#2e3235"/>
<line x1="-91" y1="-15" x2="-84" y2="-9" stroke="#33373a" stroke-width="7" stroke-linecap="round"/>
</g>
<g transform="translate(1071,1273.4) scale(0.99)">
<rect x="-127" y="-6.5" width="10" height="13" fill="#2b2e31"/>
<rect x="-118" y="-5" width="14" height="10" fill="#35393c"/>
<circle cx="-108" cy="0" r="3" fill="none" stroke="#9a9ea2" stroke-width="0.8"/>
<rect x="-104" y="-6.8" width="12" height="13.6" fill="#2c3033"/>
<rect x="-93" y="-4.5" width="8" height="9" fill="#2e3235"/>
<line x1="-91" y1="-15" x2="-84" y2="-9" stroke="#33373a" stroke-width="7" stroke-linecap="round"/>
</g>
<path d="M1134,1056.5 L1165,1056.5 C1195,1056.5 1222,1075 1235,1110 C1245,1140 1252,1160 1252,1190 L1252,1256" fill="none" stroke="#a9b7c2" stroke-width="17"/><path d="M1134,1056.5 L1165,1056.5 C1195,1056.5 1222,1075 1235,1110 C1245,1140 1252,1160 1252,1190 L1252,1256" fill="none" stroke="#c3d0da" stroke-width="14.6"/>
<rect x="1131.5" y="1047.5" width="4" height="18" fill="#eeeeee" stroke="#cfcfcf" stroke-width="0.6"/>
<rect x="1242.5" y="1254" width="20" height="4" fill="#eeeeee" stroke="#cfcfcf" stroke-width="0.6"/>
<rect x="1264" y="1170" width="45" height="105" fill="url(#pipeV)"/><rect x="1296.85" y="1170" width="12.15" height="105" fill="url(#ribsH)" opacity="0.35"/>
<rect x="1263" y="1273.5" width="48" height="21" fill="url(#metalH)"/>
<rect x="1264.44" y="1274.5" width="3.84" height="6.3" fill="#2f3235"/>
<rect x="1264.44" y="1287.15" width="3.84" height="6.3" fill="#2f3235"/>
<rect x="1292.76" y="1274.5" width="4.8" height="6.3" fill="#2f3235"/>
<rect x="1292.76" y="1287.15" width="4.8" height="6.3" fill="#2f3235"/>
<rect x="1300.44" y="1274.5" width="4.8" height="6.3" fill="#2f3235"/>
<rect x="1300.44" y="1287.15" width="4.8" height="6.3" fill="#2f3235"/>
<rect x="1306.2" y="1274.5" width="3.84" height="6.3" fill="#2f3235"/>
<rect x="1306.2" y="1287.15" width="3.84" height="6.3" fill="#2f3235"/>
<use href="#elbow" transform="translate(1256.7,1294.3) scale(0.99,-0.99)"/>
<rect x="1236" y="1300.5" width="20.7" height="47.5" fill="url(#metalV)"/>
<rect x="1237" y="1301.92" width="7.24" height="5.22" fill="#2f3235"/>
<rect x="1248.42" y="1301.92" width="7.24" height="5.22" fill="#2f3235"/>
<rect x="1237" y="1310" width="7.24" height="5.7" fill="#2f3235"/>
<rect x="1248.42" y="1310" width="7.24" height="5.7" fill="#2f3235"/>
<rect x="1237" y="1342.3" width="7.24" height="4.75" fill="#2f3235"/>
<rect x="1248.42" y="1342.3" width="7.24" height="4.75" fill="#2f3235"/>
<line x1="1293" y1="1331" x2="1320" y2="1357" stroke="#111" stroke-width="6"/>
<line x1="1293" y1="1331" x2="1303.8" y2="1341.4" stroke="#151515" stroke-width="8.5"/>
<g transform="translate(1307.85,1345.3) rotate(43.92)"><rect x="-4" y="-5.5" width="8" height="11" rx="2" fill="#d8141a"/><rect x="-1.2" y="-8" width="2.4" height="16" fill="#d8141a"/></g>
<rect x="1244" y="1258.5" width="17" height="43" rx="2" fill="#141414"/>
<rect x="1244" y="1288.5" width="17" height="2" fill="#3657c9"/>
<rect x="1227.5" y="1266" width="17" height="14" fill="#141414"/>
<use href="#tank" transform="translate(1223.5,1045) scale(0.98)"/>
<rect x="1348.5" y="1102" width="4" height="12" fill="#1f9a3a"/><rect x="1351.5" y="1102" width="7" height="12" fill="#111"/><rect x="1357.5" y="1104.5" width="9" height="7.5" fill="#111"/>
<use href="#pump" transform="translate(1040.8,1108) scale(0.985)"/>
<rect x="1127" y="1099.75" width="90" height="15.5" fill="#d20a0a"/><rect x="1127" y="1099.75" width="90" height="2" fill="#e04a4a" opacity="0.6"/>
<rect x="1125" y="1098" width="4" height="19" fill="#eeeeee" stroke="#cfcfcf" stroke-width="0.6"/>
<rect x="1216" y="1099.5" width="8" height="16" fill="#111"/>
<g transform="translate(35,1100) scale(1,1.01)">
<g transform="translate(-34.2,0)" fill="none" stroke="#6bbc3b" stroke-width="3.5" stroke-linejoin="miter" stroke-miterlimit="3" stroke-linecap="square">
<path transform="translate(35.95,1.75)" d="M0.6,0.6 L12.75,15.8 L24.9,0.6"/>
<path transform="translate(64.55,1.75)" d="M0,8.33 L6.9,8.33"/>
<path transform="translate(77.05,1.75)" d="M21.4,0 L3.2,0 Q0,0 0,3.2 L0,5.3 Q0,8.5 3.2,8.5 L18.2,8.5 Q21.4,8.5 21.4,11.7 L21.4,13.8 Q21.4,17 18.2,17 L0,17"/>
<path transform="translate(104.05,1.75)" d="M0,0 L12.15,7.65 L24.3,0 M12.15,7.65 L12.15,17"/>
<path transform="translate(133.95,1.75)" d="M20.9,0 L3.2,0 Q0,0 0,3.2 L0,5.3 Q0,8.5 3.2,8.5 L17.7,8.5 Q20.9,8.5 20.9,11.7 L20.9,13.8 Q20.9,17 17.7,17 L0,17"/>
<path transform="translate(160.45,1.75)" d="M0,0 L20.5,0 M10.25,0 L10.25,17"/>
<path transform="translate(187.35,1.75)" d="M17.3,0 L0,0 L0,17 L17.3,17 M0,8.5 L16.26,8.5"/>
<path transform="translate(211.45,1.75)" d="M0,17 L0,0 L14.25,15.81 L28.5,0 L28.5,17"/>
<path transform="translate(254.45,1.75)" d="M18.7,17 L18.7,0 L0,13.6 L20.9,13.6"/>
<path transform="translate(290.45,1.75)" d="M0,17 L0,0 L17.7,0 Q20.9,0 20.9,3.2 L20.9,5.98 Q20.9,9.18 17.7,9.18 L0,9.18"/>
<path transform="translate(317.65,1.75)" d="M3.2,0 L18.7,0 Q21.9,0 21.9,3.2 L21.9,13.8 Q21.9,17 18.7,17 L3.2,17 Q0,17 0,13.8 L0,3.2 Q0,0 3.2,0 Z"/>
<path transform="translate(344.75,1.75)" d="M0,0 L21.9,0 M10.95,0 L10.95,17"/>
<path transform="translate(380.75,1.75)" d="M0,3.4 L5.9,0 L5.9,17"/>
<path transform="translate(402.75,1.75)" d="M0,17 L0,0 L16.6,0 Q19.8,0 19.8,3.2 L19.8,5.3 Q19.8,8.5 16.6,8.5 L0,8.5 M10.89,8.5 L19.8,17"/>
<path transform="translate(429.35,1.75)" d="M3.2,0 L19.3,0 Q22.5,0 22.5,3.2 L22.5,13.8 Q22.5,17 19.3,17 L3.2,17 Q0,17 0,13.8 L0,3.2 Q0,0 3.2,0 Z"/>
<path transform="translate(457.05,1.75)" d="M0.6,0.6 L10.41,16 L17.35,2.04 L24.98,16 L34.1,0.6"/>
<path transform="translate(506.85,1.75)" d="M18.7,0 L0,0 L0,17 L18.7,17 M0,8.5 L17.58,8.5"/>
<path transform="translate(531.05,1.75)" d="M0,17 L0,0 L24.2,17 L24.2,0"/>
<path transform="translate(562.05,1.75)" d="M0,0 L18.7,0 Q23.7,0 23.7,5 L23.7,12 Q23.7,17 18.7,17 L0,17 Z"/>
<path transform="translate(601.95,1.75)" d="M0,0 L0,17 M22,0 L22,17 M0,8.5 L22,8.5"/>
<path transform="translate(631.85,1.75)" d="M18.1,0 L0,0 L0,17 L18.1,17 M0,8.5 L17.01,8.5"/>
<path transform="translate(653.85,1.75)" d="M0.6,16.4 L12.3,0.8 L24,16.4"/>
<path d="M662.95,20.5 L666.15,15.5 L669.35,20.5 Z" fill="#6bbc3b" stroke="none"/>
<path transform="translate(684.85,1.75)" d="M0,0 L17.7,0 Q22.7,0 22.7,5 L22.7,12 Q22.7,17 17.7,17 L0,17 Z"/>
<path transform="translate(715.35,1.75)" d="M17.4,0 L0,0 L0,17 L17.4,17 M0,8.5 L16.36,8.5"/>
<path transform="translate(739.15,1.75)" d="M0,17 L0,0 L17,0 Q20.2,0 20.2,3.2 L20.2,5.3 Q20.2,8.5 17,8.5 L0,8.5 M11.11,8.5 L20.2,17"/>
<path transform="translate(775.35,1.75)" d="M0,0 L0,17 M18.9,0 L4.72,8.5 L18.9,17 M0,8.5 L4.72,8.5"/>
<path transform="translate(800.95,1.75)" d="M0,0 L0,17"/>
<path transform="translate(807.15,1.75)" d="M0,0 L21.8,0 M10.9,0 L10.9,17"/>
</g></g>
<text x="311.3" y="1149.2" font-family="Liberation Sans, sans-serif" font-size="21.3" fill="#222" stroke="#222" stroke-width="0.2" textLength="242.8" lengthAdjust="spacingAndGlyphs">Setup: End Right (1ER)</text>
<rect x="63" y="427.2" width="1288" height="7.2" fill="#000"/>
<rect x="63" y="1007.2" width="1288" height="6.8" fill="#000"/>
</svg>
</body></html>
